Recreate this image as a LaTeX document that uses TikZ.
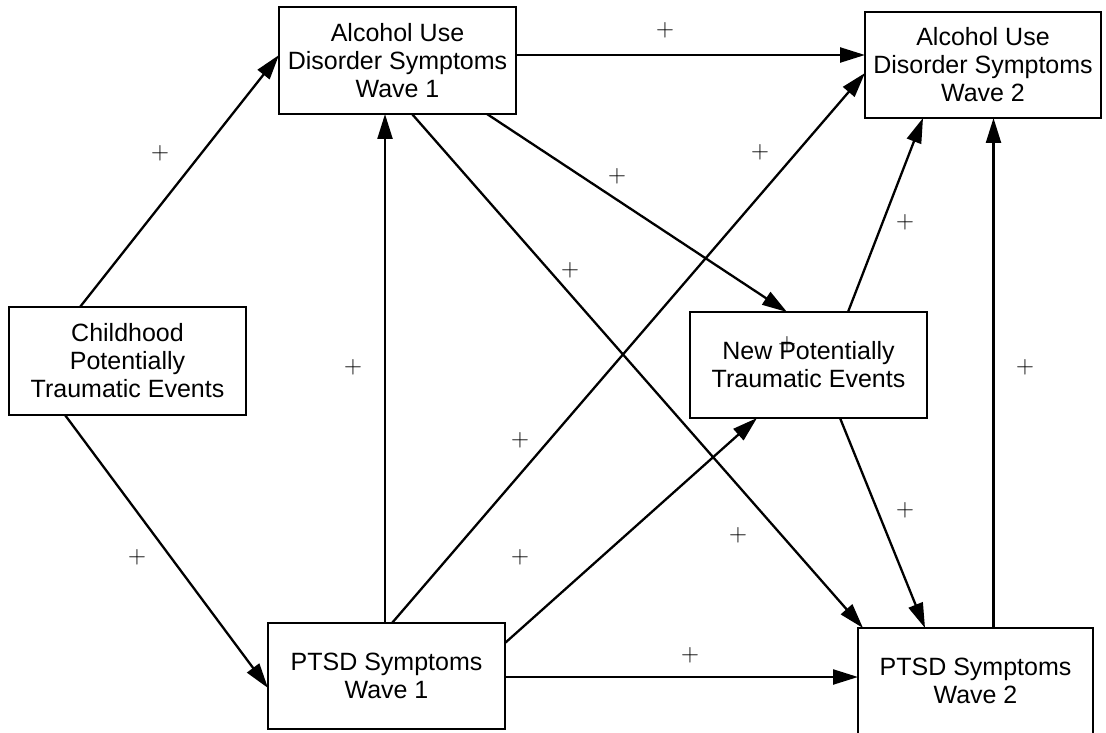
\documentclass[tikz,border=0pt]{standalone}
\usepackage{fontspec}
\setmainfont{Liberation Sans}
\usetikzlibrary{arrows.meta}
\begin{document}
\begin{tikzpicture}[x=1pt,y=-1pt,
	box/.style={draw,line width=2.6pt,align=center,inner sep=0pt,outer sep=0pt,
		minimum height=106pt,font=\fontsize{25}{28}\selectfont},
	arr/.style={line width=2.3pt,-{Triangle[length=25pt,width=15pt]}},
	sign/.style={font=\fontsize{24}{24}\selectfont,inner sep=0pt}]
	\useasboundingbox (0,0) rectangle (1106,733);
	\node [box,minimum width=237pt,minimum height=108pt] (CPTE) at (127.5,361) {Childhood\\Potentially\\Traumatic Events};
	\node [box,minimum width=237pt,minimum height=107pt] (AUD1) at (397.5,60.5) {Alcohol Use\\Disorder Symptoms\\Wave 1};
	\node [box,minimum width=236pt] (AUD2) at (983,65) {Alcohol Use\\Disorder Symptoms\\Wave 2};
	\node [box,minimum width=237pt] (NPTE) at (808.5,365) {New Potentially\\Traumatic Events};
	\node [box,minimum width=237pt] (PTSD1) at (386.5,676) {PTSD Symptoms\\Wave 1};
	\node [box,minimum width=235pt] (PTSD2) at (975.5,681) {PTSD Symptoms\\Wave 2};
	% paths
	\draw [arr] ([xshift=-47.5pt]CPTE.north) -- ([yshift=5.5pt]AUD1.west);
	\draw [arr] ([xshift=-62.5pt]CPTE.south) -- ([yshift=-12pt]PTSD1.west);
	\draw [arr] ([yshift=5.5pt]AUD1.east) -- ([yshift=10pt]AUD2.west);
	\draw [arr] ([xshift=89.5pt]AUD1.south) -- ([xshift=-21.5pt]NPTE.north);
	\draw [arr] ([xshift=14.5pt]AUD1.south) -- ([xshift=-112.5pt]PTSD2.north);
	\draw [arr] ([xshift=-1.5pt]PTSD1.north) -- ([xshift=-12.5pt]AUD1.south);
	\draw [arr] ([xshift=5.5pt]PTSD1.north) -- ([yshift=-8pt]AUD2.west);
	\draw [arr] ([yshift=33pt]PTSD1.east) -- ([xshift=-51.5pt]NPTE.south);
	\draw [arr] ([yshift=-1pt]PTSD1.east) -- ([yshift=4pt]PTSD2.west);
	\draw [arr] ([xshift=39.5pt]NPTE.north) -- ([xshift=-60pt]AUD2.south);
	\draw [arr] ([xshift=31.5pt]NPTE.south) -- ([xshift=-50.5pt]PTSD2.north);
	\draw [arr] ([xshift=18pt]PTSD2.north) -- ([xshift=10.5pt]AUD2.south);
	% signs
	\node [sign] (P1) at (665,30) {$+$};
	\node [sign] (P2) at (160,153) {$+$};
	\node [sign] (P3) at (760,152) {$+$};
	\node [sign] (P4) at (617,176) {$+$};
	\node [sign] (P5) at (905,222) {$+$};
	\node [sign] (P6) at (570,270) {$+$};
	\node [sign] (P7) at (353,367) {$+$};
	\node [sign] (P8) at (787,344) {$+$};
	\node [sign] (P9) at (1025,367) {$+$};
	\node [sign] (P10) at (520,440) {$+$};
	\node [sign] (P11) at (137,557) {$+$};
	\node [sign] (P12) at (520,557) {$+$};
	\node [sign] (P13) at (905,510) {$+$};
	\node [sign] (P14) at (738,535) {$+$};
	\node [sign] (P15) at (690,655) {$+$};
\end{tikzpicture}
\end{document}
